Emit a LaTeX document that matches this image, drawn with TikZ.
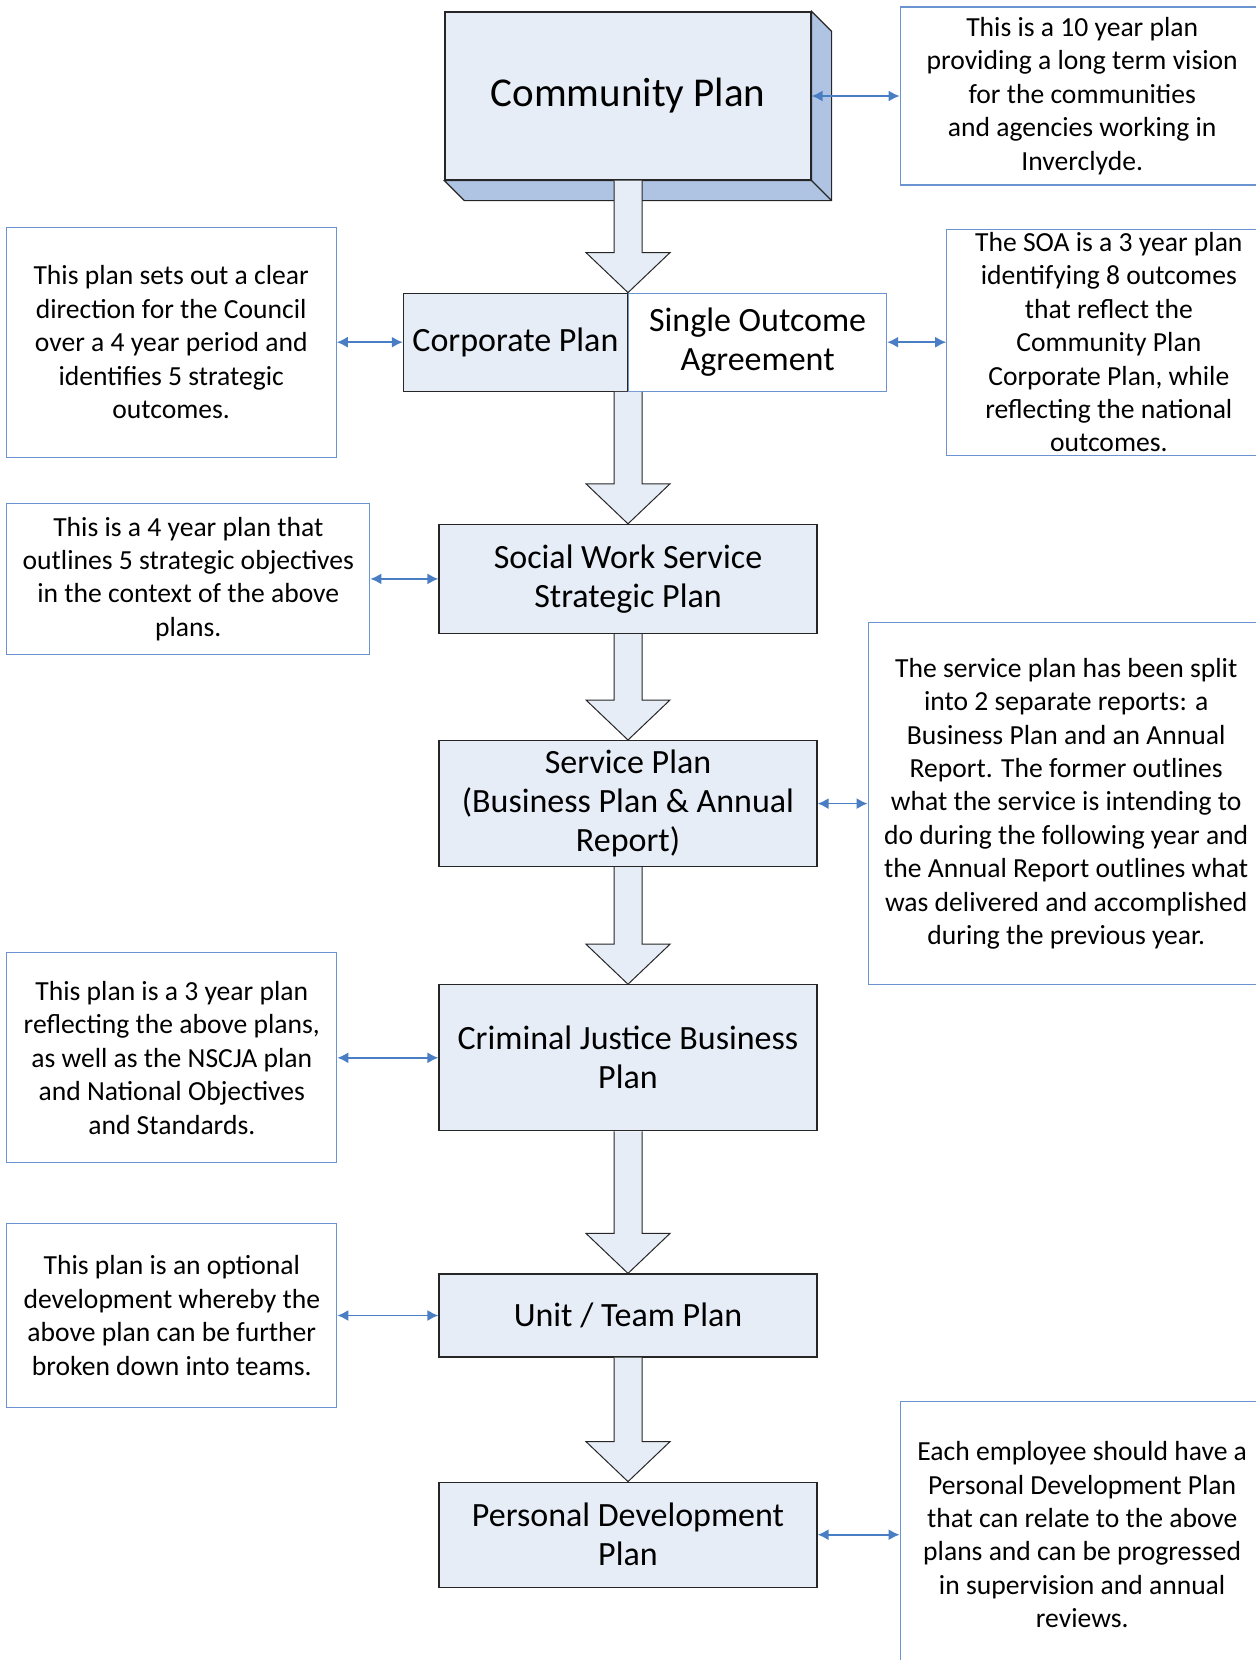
\documentclass[tikz,border=0pt]{standalone}
\usepackage{fontspec}
\setmainfont{Carlito}
\usepackage{tikz}
\usetikzlibrary{arrows.meta,positioning,calc}
\definecolor{planfill}{HTML}{E6EDF7}
\definecolor{planside}{HTML}{AFC3E3}
\definecolor{noteline}{HTML}{6A93D0}
\definecolor{linkblue}{HTML}{4A7EC4}
\definecolor{edge}{HTML}{262626}
\tikzset{
  plan/.style={draw=edge,fill=planfill,line width=0.6pt,align=center,inner sep=0pt,
    minimum width=189pt,font=\fontsize{17}{19.5}\selectfont},
  note/.style={draw=noteline,fill=white,line width=0.6pt,align=center,inner sep=0pt,
    font=\fontsize{13.8}{16.7}\selectfont},
  link/.style={{Latex[length=5.5pt,width=5.5pt]}-{Latex[length=5.5pt,width=5.5pt]},draw=linkblue,line width=0.8pt},
  downarrow/.style={draw=edge,fill=planfill,line width=0.5pt}
}
\newcommand{\flowdown}[2]{%
  \draw[downarrow] ($(#1)+(-7pt,0)$) -- ($(#2)+(-7pt,20pt)$) -- ++(-14pt,0) -- (#2)
    -- ++(21pt,20pt) -- ++(-14pt,0) -- ($(#1)+(7pt,0)$);}

\begin{document}
\begin{tikzpicture}
  \useasboundingbox (0,0) rectangle (628pt,-830pt);
  \node[plan,minimum width=183pt,minimum height=84pt,font=\fontsize{20.5}{24}\selectfont] (comm) at (314pt,-48pt) {Community Plan};
  \filldraw[fill=planside,draw=edge,line width=0.6pt] (comm.north east) -- ++(10pt,-10pt) -- ($(comm.south east)+(10pt,-10pt)$) -- ($(comm.south west)+(10pt,-10pt)$) -- (comm.south west) -- (comm.south east) -- cycle;
  \draw[edge,line width=0.6pt] (comm.south east) -- ++(10pt,-10pt);
  \node[note,font=\fontsize{17}{19.5}\selectfont,minimum width=129pt,minimum height=49pt,below=56pt of comm.south,anchor=north west] (soa) {Single Outcome\\Agreement};
  \node[plan,minimum width=112pt,minimum height=49pt,left=0pt of soa] (corp) {Corporate Plan};
  \node[plan,minimum height=54.5pt,below=66pt of soa.south west] (social) {Social Work Service\\Strategic Plan};
  \node[plan,minimum height=63pt,below=53pt of social] (service) {Service Plan\\(Business Plan \& Annual\\Report)};
  \node[plan,minimum height=73pt,below=58.5pt of service] (crim) {Criminal Justice Business\\Plan};
  \node[plan,minimum height=41.5pt,below=71pt of crim] (unit) {Unit / Team Plan};
  \node[plan,minimum height=52.5pt,below=62pt of unit] (pdp) {Personal Development\\Plan};

  \node[note,minimum width=182pt,minimum height=89pt,right=44pt of comm] (tr) {This is a 10 year plan\\providing a long term vision\\for the communities\\and agencies working in\\Inverclyde.};
  \node[note,minimum width=165pt,minimum height=115pt,left=33pt of corp] (l1) {This plan sets out a clear\\direction for the Council\\over a 4 year period and\\identifies 5 strategic\\outcomes.};
  \node[note,minimum width=162pt,minimum height=113pt,right=29.5pt of soa] (r1) {The SOA is a 3 year plan\\identifying 8 outcomes\\that reflect the\\Community Plan\\Corporate Plan, while\\reflecting the national\\outcomes.};
  \node[note,minimum width=181.5pt,minimum height=75.5pt,left=34pt of social] (l2) {This is a 4 year plan that\\outlines 5 strategic objectives\\in the context of the above\\plans.};
  \node[note,minimum width=198pt,minimum height=181pt,right=25pt of service] (r2) {The service plan has been split\\into 2 separate reports: a\\Business Plan and an Annual\\Report. The former outlines\\what the service is intending to\\do during the following year and\\the Annual Report outlines what\\was delivered and accomplished\\during the previous year.};
  \node[note,minimum width=165pt,minimum height=105pt,left=50.5pt of crim] (l3) {This plan is a 3 year plan\\reflecting the above plans,\\as well as the NSCJA plan\\and National Objectives\\and Standards.};
  \node[note,minimum width=165pt,minimum height=92pt,left=50.5pt of unit] (l4) {This plan is an optional\\development whereby the\\above plan can be further\\broken down into teams.};
  \node[note,minimum width=182pt,minimum height=133pt,right=41pt of pdp] (r3) {Each employee should have a\\Personal Development Plan\\that can relate to the above\\plans and can be progressed\\in supervision and annual\\reviews.};

  \flowdown{comm.south}{soa.north west}
  \flowdown{soa.south west}{social.north}
  \flowdown{social.south}{service.north}
  \flowdown{service.south}{crim.north}
  \flowdown{crim.south}{unit.north}
  \flowdown{unit.south}{pdp.north}

  \draw[link] (comm.east) -- (tr.west);
  \draw[link] (l1.east) -- (corp.west);
  \draw[link] (soa.east) -- (r1.west);
  \draw[link] (l2.east) -- (social.west);
  \draw[link] (service.east) -- (r2.west);
  \draw[link] (l3.east) -- (crim.west);
  \draw[link] (l4.east) -- (unit.west);
  \draw[link] (pdp.east) -- (r3.west);
\end{tikzpicture}
\end{document}
